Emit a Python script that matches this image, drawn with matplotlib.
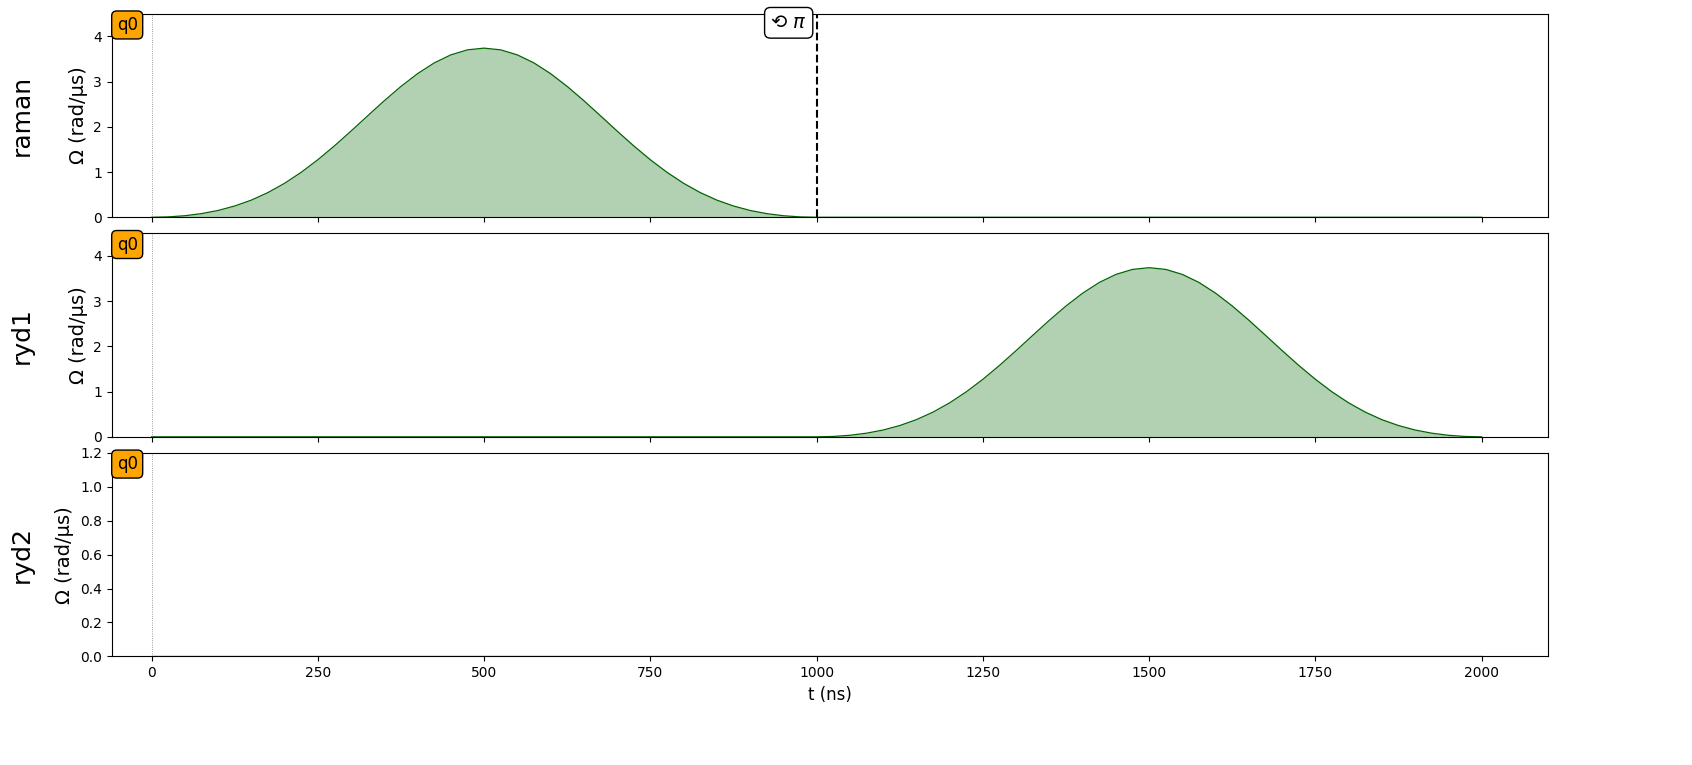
import numpy as np
import matplotlib.pyplot as plt

# pulse amplitude samples (rad/us), every 25 ns
t_pulse = [0, 25, 50, 75, 100, 125, 150, 175, 200, 225, 250, 275, 300, 325, 350,
           375, 400, 425, 450, 475, 500, 525, 550, 575, 600, 625, 650, 675, 700,
           725, 750, 775, 800, 825, 850, 875, 900, 925, 950, 975, 1000]
amp = [0.0, 0.008, 0.034, 0.080, 0.150, 0.249, 0.379, 0.546, 0.751, 0.994, 1.272,
       1.579, 1.907, 2.244, 2.578, 2.893, 3.176, 3.413, 3.591, 3.702, 3.74,
       3.702, 3.591, 3.413, 3.176, 2.893, 2.578, 2.244, 1.907, 1.579, 1.272,
       0.994, 0.751, 0.546, 0.379, 0.249, 0.150, 0.080, 0.034, 0.008, 0.0]

channels = ['raman', 'ryd1', 'ryd2']
starts = [0, 1000, None]
ylims = [4.5, 4.5, 1.2]
t_end = 2000
phase_shift_t = 1000

fig = plt.figure(figsize=(16.92, 7.65), dpi=100)
bottoms = [0.716, 0.429, 0.142]
axes = []
for i, ch in enumerate(channels):
    ax = fig.add_axes([0.066, bottoms[i], 0.849, 0.266],
                      sharex=axes[0] if axes else None)
    axes.append(ax)
    st = starts[i]
    tt = [0]
    yy = [0]
    if st is not None:
        tt += [st + t for t in t_pulse]
        yy += amp
    tt.append(t_end)
    yy.append(0)
    tt = np.array(tt)
    yy = np.array(yy)
    ax.plot(tt, yy, color='darkgreen', lw=0.9)
    ax.fill_between(tt, 0, yy, color='darkgreen', alpha=0.3, lw=0)
    ax.set_xlim(-60, 2100)
    ax.set_ylim(0, ylims[i])
    ax.axvline(0, color='grey', ls=':', lw=0.6)
    ax.set_ylabel('Ω (rad/µs)', fontsize=14)
    fig.text(0.013, bottoms[i] + 0.133, ch, rotation=90,
             fontsize=18, ha='center', va='center')
    ax.text(0.0035, 0.945, 'q0', transform=ax.transAxes, fontsize=12,
            ha='left', va='center',
            bbox=dict(boxstyle='round,pad=0.3', fc='orange', ec='black'))
    if i < 2:
        ax.tick_params(labelbottom=False)

axes[0].axvline(phase_shift_t, color='black', ls='--', lw=1.5)
axes[0].text(phase_shift_t - 42, 4.3, '⟲ $\\pi$', fontsize=14, ha='center', va='center',
             bbox=dict(boxstyle='round,pad=0.3', fc='white', ec='black'))
axes[2].set_xticks([0, 250, 500, 750, 1000, 1250, 1500, 1750, 2000])
axes[2].set_xlabel('t (ns)', fontsize=12)

plt.savefig('out.png', dpi=100)
